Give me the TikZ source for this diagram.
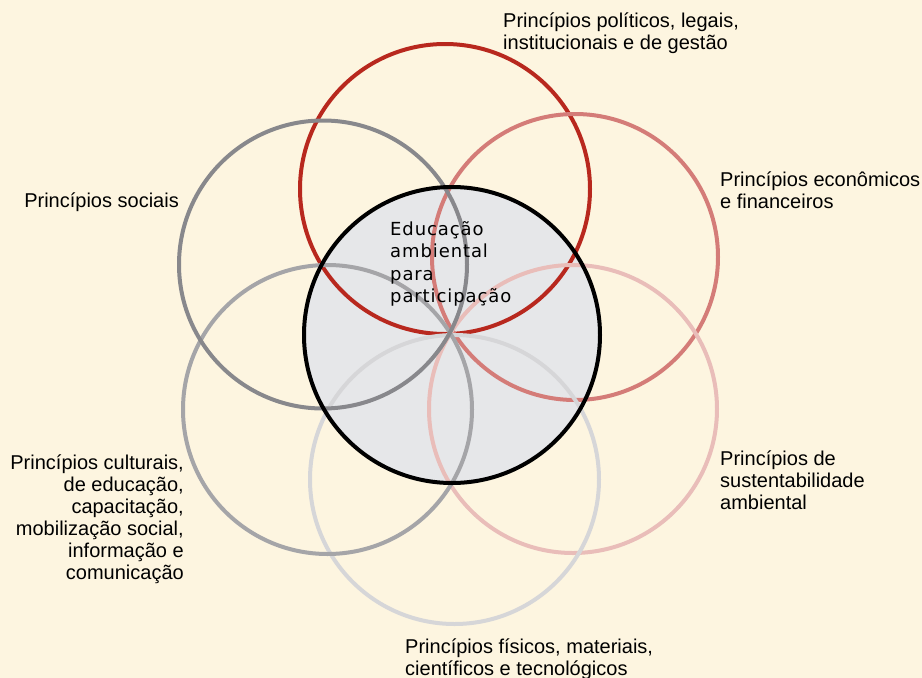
\documentclass[tikz,border=0pt]{standalone}
\usepackage{fontspec}
\setmainfont{Liberation Sans}
\newfontfamily\centrefont[LetterSpace=5]{DejaVu Sans}
\definecolor{bgcream}{HTML}{FDF5E0}
\definecolor{corefill}{HTML}{E6E7E9}
\definecolor{ringred}{HTML}{B8281E}
\definecolor{ringpink}{HTML}{D47C78}
\definecolor{ringrose}{HTML}{E9BDB9}
\definecolor{ringpale}{HTML}{D6D6D8}
\definecolor{ringgray}{HTML}{A5A5A8}
\definecolor{ringdark}{HTML}{88888C}
\tikzset{
  ring/.style={line width=4pt},
  lbl/.style={font=\fontsize{20}{22}\selectfont, inner sep=0pt, align=left},
}
\begin{document}
\begin{tikzpicture}[x=1pt,y=-1pt]
  \fill[bgcream] (0,0) rectangle (922,678);
  \useasboundingbox (0,0) rectangle (922,678);
  % core
  \fill[corefill] (452,335) circle[radius=148];
  % surrounding rings
  \draw[ring, ringred]  (445,189)   circle[radius=145];
  \draw[ring, ringpink] (575,257)   circle[radius=143];
  \draw[ring, ringrose] (573,409)   circle[radius=144];
  \draw[ring, ringpale] (454.5,479.5) circle[radius=144.5];
  \draw[ring, ringgray] (327.5,409.5) circle[radius=144.5];
  \draw[ring, ringdark] (323,264.5) circle[radius=144];
  \draw[ring, black] (452,335) circle[radius=148];
  % texts
  \node[inner sep=0pt, align=left, anchor=north west, font=\centrefont\fontsize{18}{22.5}\selectfont] (core) at (390,221)
    {Educação\\ambiental\\para\\participação};
  \node[lbl, anchor=north west] (pol) at (503,13) {Princípios políticos, legais,\\institucionais e de gestão};
  \node[lbl, anchor=north west] (eco) at (720,172) {Princípios econômicos\\e financeiros};
  \node[lbl, anchor=north east] (soc) at (179,193) {Princípios sociais};
  \node[lbl, anchor=north west] (sus) at (720,451) {Princípios de\\sustentabilidade\\ambiental};
  \node[lbl, anchor=north east, align=right] (cul) at (184,455)
    {Princípios culturais,\\de educação,\\capacitação,\\mobilização social,\\informação e\\comunicação};
  \node[lbl, anchor=north west] (fis) at (405,639) {Princípios físicos, materiais,\\científicos e tecnológicos};
\end{tikzpicture}
\end{document}
